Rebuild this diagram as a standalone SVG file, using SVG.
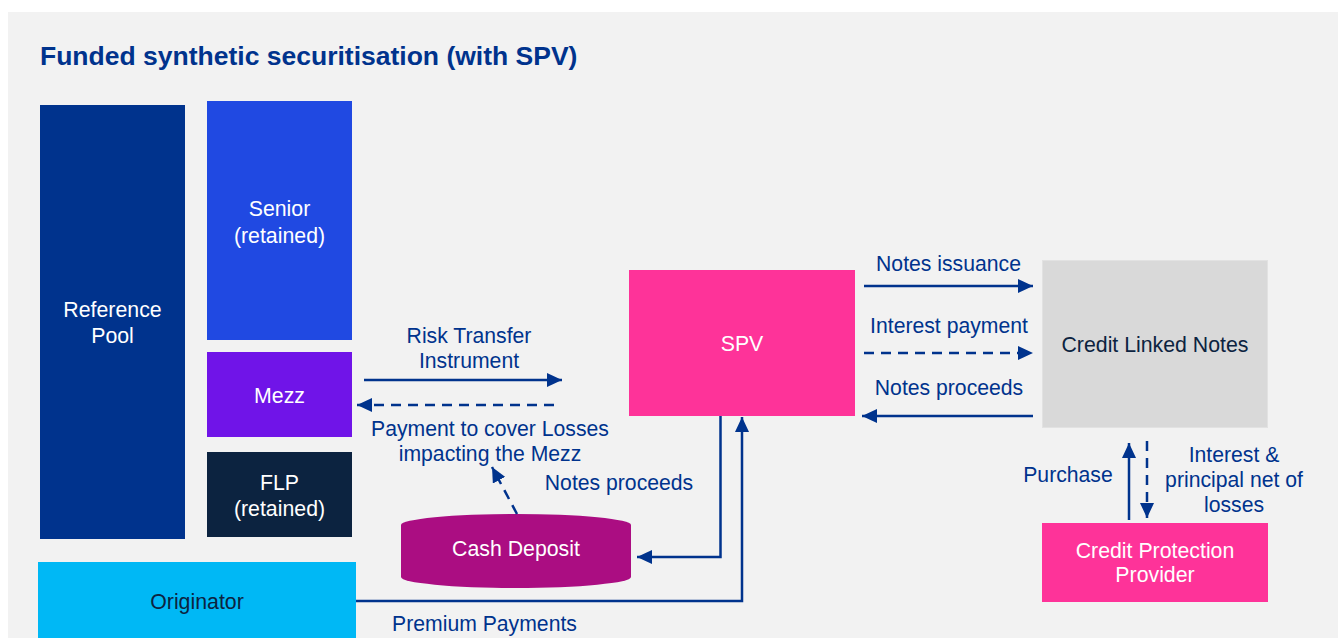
<svg xmlns="http://www.w3.org/2000/svg" width="1339" height="638" viewBox="0 0 1339 638">
  <style>
    .lbl { font-family: "Liberation Sans", Arial, sans-serif; font-size: 21.2px; fill: #00338d; text-anchor: middle; }
    .box { font-family: "Liberation Sans", Arial, sans-serif; font-size: 21.3px; fill: #ffffff; text-anchor: middle; }
    .dark { fill: #0c2340; }
    .ln { fill: none; stroke: #00338d; stroke-width: 2.5; }
    .dash { stroke-dasharray: 10 7; }
  </style>
  <defs>
    <marker id="ah" viewBox="0 0 15 14" refX="15" refY="7" markerWidth="15" markerHeight="14" markerUnits="userSpaceOnUse" orient="auto">
      <path d="M0,0 L15,7 L0,14 Z" fill="#00338d"/>
    </marker>
  </defs>

  <rect x="0" y="0" width="1339" height="638" fill="#ffffff"/>
  <rect x="8" y="12" width="1330" height="626" fill="#f2f2f2"/>

  <text x="40" y="65" font-family="Liberation Sans, Arial, sans-serif" font-size="26.5" font-weight="bold" fill="#00338d">Funded synthetic securitisation (with SPV)</text>

  <g id="reference-pool">
    <rect x="40" y="105" width="145" height="434" fill="#00338d"/>
    <text class="box" x="112.5" y="317">Reference</text>
    <text class="box" x="112.5" y="343">Pool</text>
  </g>
  <g id="senior">
    <rect x="207" y="101" width="145" height="239" fill="#2049e2"/>
    <text class="box" x="279.5" y="216">Senior</text>
    <text class="box" x="279.5" y="243">(retained)</text>
  </g>
  <g id="mezz">
    <rect x="207" y="352" width="145" height="85" fill="#7014e8"/>
    <text class="box" x="279.5" y="403">Mezz</text>
  </g>
  <g id="flp">
    <rect x="207" y="452" width="145" height="85" fill="#0c2340"/>
    <text class="box" x="279.5" y="490">FLP</text>
    <text class="box" x="279.5" y="516">(retained)</text>
  </g>
  <g id="originator">
    <rect x="38" y="562" width="318" height="80" fill="#00b8f5"/>
    <text class="box dark" x="197" y="609">Originator</text>
  </g>
  <g id="spv">
    <rect x="629" y="270" width="226" height="146" fill="#fe3399"/>
    <text class="box" x="742" y="351">SPV</text>
  </g>
  <g id="credit-linked-notes">
    <rect x="1042.5" y="260.5" width="225" height="167" fill="#d9d9d9" stroke="#e2e2e2" stroke-width="1"/>
    <text class="box dark" x="1155" y="352">Credit Linked Notes</text>
  </g>
  <g id="credit-protection-provider">
    <rect x="1042" y="523" width="226" height="79" fill="#fe3399"/>
    <text class="box" x="1155" y="558">Credit Protection</text>
    <text class="box" x="1155" y="582">Provider</text>
  </g>
  <g id="cash-deposit">
    <path d="M401,525 A115,11 0 0 1 631,525 L631,577 A115,11 0 0 1 401,577 Z" fill="#ab0d82"/>
    <text class="box" x="516" y="556">Cash Deposit</text>
  </g>

  <g id="connectors">
    <!-- tranche side -->
    <line class="ln" x1="364" y1="380" x2="562" y2="380" marker-end="url(#ah)"/>
    <line class="ln dash" x1="554" y1="405" x2="357" y2="405" marker-end="url(#ah)"/>
    <line class="ln dash" x1="517" y1="514" x2="492" y2="467" marker-end="url(#ah)"/>
    <!-- SPV to cash deposit -->
    <polyline class="ln" points="720.5,416 720.5,557 637,557" marker-end="url(#ah)"/>
    <!-- premium payments -->
    <polyline class="ln" points="356,601 742,601 742,417" marker-end="url(#ah)"/>
    <!-- SPV / notes -->
    <line class="ln" x1="864" y1="286" x2="1033" y2="286" marker-end="url(#ah)"/>
    <line class="ln dash" x1="864" y1="353" x2="1033" y2="353" marker-end="url(#ah)"/>
    <line class="ln" x1="1033" y1="416" x2="862" y2="416" marker-end="url(#ah)"/>
    <!-- protection provider -->
    <line class="ln" x1="1129" y1="520" x2="1129" y2="443" marker-end="url(#ah)"/>
    <line class="ln dash" x1="1147" y1="441" x2="1147" y2="518" marker-end="url(#ah)"/>
  </g>

  <g id="labels">
    <text class="lbl" x="469" y="343">Risk Transfer</text>
    <text class="lbl" x="469" y="368">Instrument</text>
    <text class="lbl" x="490" y="436">Payment to cover Losses</text>
    <text class="lbl" x="490" y="461">impacting the Mezz</text>
    <text class="lbl" x="619" y="490">Notes proceeds</text>
    <text class="lbl" x="484.5" y="631">Premium Payments</text>
    <text class="lbl" x="948.5" y="271">Notes issuance</text>
    <text class="lbl" x="949" y="333">Interest payment</text>
    <text class="lbl" x="949" y="395">Notes proceeds</text>
    <text class="lbl" x="1068" y="482">Purchase</text>
    <text class="lbl" x="1234" y="462">Interest &amp;</text>
    <text class="lbl" x="1234" y="487">principal net of</text>
    <text class="lbl" x="1234" y="512">losses</text>
  </g>
</svg>
